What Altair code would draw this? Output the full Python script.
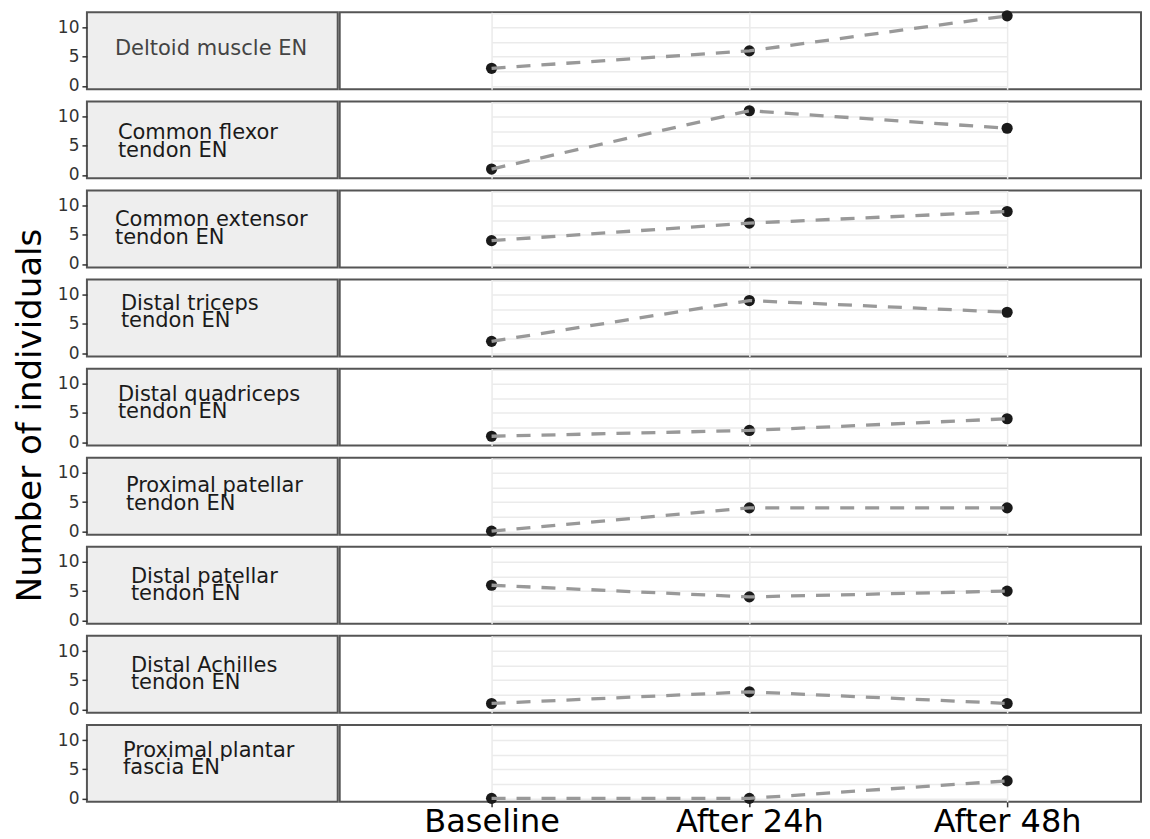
import altair as alt
import pandas as pd

# ---- data ----
times = ["Baseline", "After 24h", "After 48h"]
tissues = [
    "Deltoid muscle EN",
    "Common flexor tendon EN",
    "Common extensor tendon EN",
    "Distal triceps tendon EN",
    "Distal quadriceps tendon EN",
    "Proximal patellar tendon EN",
    "Distal patellar tendon EN",
    "Distal Achilles tendon EN",
    "Proximal plantar fascia EN",
]
strip_labels = [
    "Deltoid muscle EN",
    "Common flexor\ntendon EN",
    "Common extensor\ntendon EN",
    "Distal triceps\ntendon EN",
    "Distal quadriceps\ntendon EN",
    "Proximal patellar\ntendon EN",
    "Distal patellar\ntendon EN",
    "Distal Achilles\ntendon EN",
    "Proximal plantar\nfascia EN",
]
baseline = [3, 1, 4, 2, 1, 0, 6, 1, 0]
after_24h = [6, 11, 7, 9, 2, 4, 4, 3, 0]
after_48h = [12, 8, 9, 7, 4, 4, 5, 1, 3]

records = []
for i, t in enumerate(tissues):
    for tm, vals in zip(times, [baseline, after_24h, after_48h]):
        records.append({"tissue": t, "time": tm, "n": vals[i]})
long_df = pd.DataFrame(records)

# ---- layout / style (not data) ----
FONT = "DejaVu Sans"
Y_DOMAIN = [-0.6, 12.6]
STRIP_W, PANEL_W, H = 251, 802, 77
label_dx = [28, 31, 28, 34, 31, 39, 44, 44, 36]
label_dy = [43, 38, 36, 30, 32, 34.5, 36, 36, 32]
label_color = ["#444444"] + ["#1A1A1A"] * 8


def y_enc(axis):
    return alt.Y("n:Q", scale=alt.Scale(domain=Y_DOMAIN, nice=False, zero=False),
                 axis=axis, title=None)


rows = []
for i, t in enumerate(tissues):
    d = long_df[long_df.tissue == t]
    last = i == len(tissues) - 1

    strip_axis = alt.Axis(values=[0, 5, 10], grid=False, domain=False,
                          tickColor="#333333", tickWidth=1.5, tickSize=5,
                          labelFontSize=17, labelColor="#333333", labelPadding=3,
                          labelFont=FONT, title=None)
    holder = alt.Chart(d).mark_point(opacity=0).encode(y=y_enc(strip_axis))
    lab = alt.Chart(pd.DataFrame({"label": [strip_labels[i]]})).mark_text(
        align="left", baseline="alphabetic", fontSize=21, lineHeight=17.4,
        lineBreak="\n", color=label_color[i], font=FONT
    ).encode(text="label:N", x=alt.value(label_dx[i]), y=alt.value(label_dy[i]))
    strip = alt.layer(holder, lab).properties(
        width=STRIP_W, height=H,
        view=alt.ViewBackground(fill="#EEEEEE", stroke="#555555", strokeWidth=2))

    xaxis = alt.Axis(grid=True, gridColor="#EBEBEB", gridWidth=1.5, domain=False,
                     labels=last, ticks=last, tickColor="#333333", tickWidth=1.5,
                     tickSize=5, labelFontSize=32, labelColor="#000000",
                     labelPadding=0, labelAngle=0, labelFont=FONT, title=None)
    x = alt.X("time:N", sort=times,
              scale=alt.Scale(type="point", range=[152, 668], padding=0),
              axis=xaxis)
    grid_axis = alt.Axis(values=[0, 2.5, 5, 7.5, 10, 12.5], grid=True,
                         gridColor="#EBEBEB", gridWidth=1.5, labels=False,
                         ticks=False, domain=False, title=None)
    pts = alt.Chart(d).mark_circle(size=125, color="#1A1A1A", opacity=1).encode(
        x=x, y=y_enc(grid_axis))
    line = alt.Chart(d).mark_line(color="#999999", strokeWidth=3.3,
                                  strokeDash=[14, 11]).encode(x=x, y=y_enc(grid_axis))
    panel = alt.layer(pts, line).properties(
        width=PANEL_W, height=H,
        view=alt.ViewBackground(fill="#FFFFFF", stroke="#555555", strokeWidth=2))

    rows.append(alt.hconcat(strip, panel, spacing=0))

chart = alt.vconcat(*rows, spacing=5.15).properties(
    title=alt.TitleParams("Number of individuals", orient="left", anchor="middle",
                          fontSize=34, font=FONT, fontWeight="normal",
                          color="#000000", offset=8, dx=8),
    padding={"left": 6, "top": -1, "right": 0, "bottom": 0},
).configure(font=FONT)

chart.save("out.html", embed_options={"renderer": "svg", "actions": False})
